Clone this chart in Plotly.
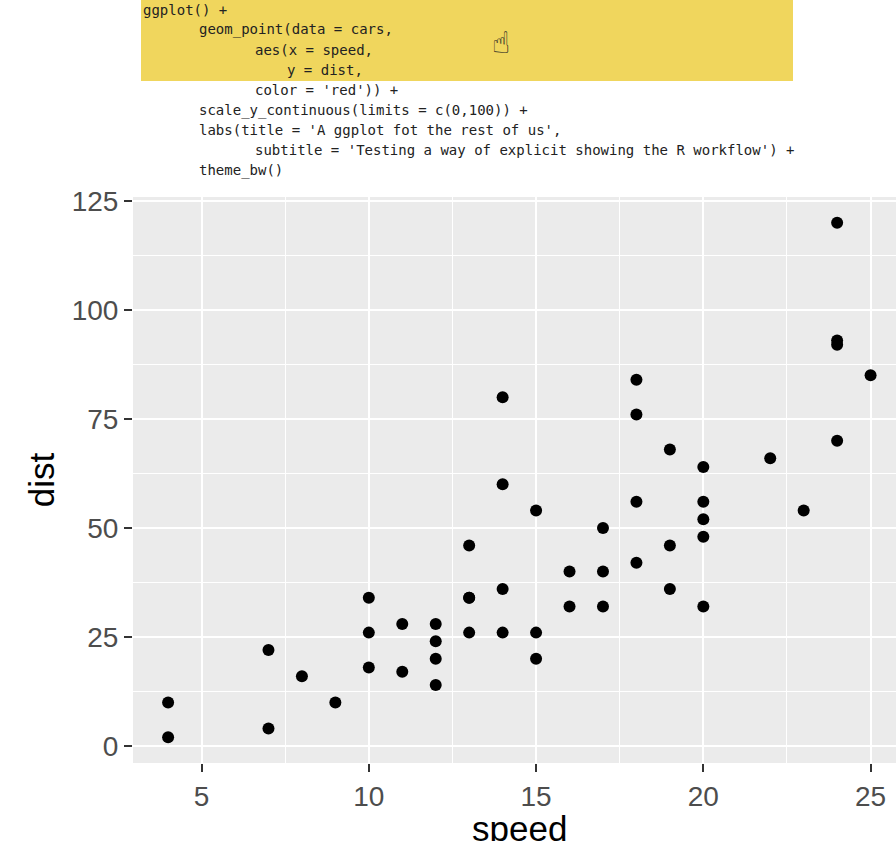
import plotly.graph_objects as go

# cars dataset (R)
speed = [4, 4, 7, 7, 8, 9, 10, 10, 10, 11, 11, 12, 12, 12, 12, 13, 13, 13, 13, 14,
         14, 14, 14, 15, 15, 15, 16, 16, 17, 17, 17, 18, 18, 18, 18, 19, 19, 19, 20, 20,
         20, 20, 20, 22, 23, 24, 24, 24, 24, 25]
dist = [2, 10, 4, 22, 16, 10, 18, 26, 34, 17, 28, 14, 20, 24, 28, 26, 34, 34, 46, 26,
        36, 60, 80, 20, 26, 54, 32, 40, 32, 40, 50, 42, 56, 76, 84, 36, 46, 68, 32, 48,
        52, 56, 64, 66, 54, 70, 92, 93, 120, 85]

x_ticks = [5, 10, 15, 20, 25]
y_ticks = [0, 25, 50, 75, 100, 125]

code_lines = [
    "ggplot() +",
    "       geom_point(data = cars,",
    "              aes(x = speed,",
    "                  y = dist,",
    "              color = 'red')) +",
    "       scale_y_continuous(limits = c(0,100)) +",
    "       labs(title = 'A ggplot fot the rest of us',",
    "              subtitle = 'Testing a way of explicit showing the R workflow') +",
    "       theme_bw()",
]

W, H = 896, 841
ML, MR, MT, MB = 133, 0, 197, 78


def px(x):
    return (x - ML) / (W - ML - MR)


def py(y):
    return (H - MB - y) / (H - MT - MB)


fig = go.Figure()
fig.add_trace(go.Scatter(
    x=speed, y=dist, mode="markers",
    marker=dict(color="black", size=12, line=dict(width=0)),
    hoverinfo="x+y", showlegend=False,
))

axis_common = dict(
    showgrid=True, gridcolor="white", gridwidth=2.4,
    zeroline=False, showline=False,
    ticks="outside", ticklen=8, tickwidth=2, tickcolor="#333333",
    tickfont=dict(family="Liberation Sans, Arial", size=28, color="#4D4D4D"),
)

fig.update_xaxes(
    range=[2.95, 25.76], tickvals=x_ticks,
    minor=dict(dtick=2.5, tick0=0, showgrid=True, gridcolor="white", gridwidth=1.2, ticks=""),
    **axis_common,
)
fig.update_yaxes(
    range=[-3.9, 125.9], tickvals=y_ticks,
    minor=dict(dtick=12.5, tick0=0, showgrid=True, gridcolor="white", gridwidth=1.2, ticks=""),
    title=dict(text="dist", standoff=6,
               font=dict(family="Liberation Sans, Arial", size=35, color="black")),
    **axis_common,
)

# x title sits centred on the full (cropped) ggplot panel and runs off the bottom
fig.add_annotation(text="speed", xref="x", yref="paper",
                   x=(2.95 + 26.05) / 2, y=py(828),
                   xanchor="center", yanchor="middle", showarrow=False,
                   font=dict(family="Liberation Sans, Arial", size=35, color="black"))

# yellow highlight behind the first lines of code
fig.add_shape(type="rect", xref="paper", yref="paper",
              x0=px(141), x1=px(793), y0=py(0), y1=py(81),
              fillcolor="#F0D65D", line=dict(width=0), layer="below")

for i, line in enumerate(code_lines):
    indent = len(line) - len(line.lstrip(" "))
    fig.add_annotation(
        text=line.strip(), xref="paper", yref="paper",
        x=px(141 + indent * 8), y=py(10 + i * 20),
        xanchor="left", yanchor="middle", showarrow=False,
        font=dict(family="DejaVu Sans Mono", size=14, color="#222222"),
    )

# mouse cursor
fig.add_annotation(text="\u261D", xref="paper", yref="paper",
                   x=px(501), y=py(23), showarrow=False,
                   font=dict(family="DejaVu Sans", size=30, color="#222222"))

fig.update_layout(
    width=W, height=H,
    margin=dict(l=ML, r=MR, t=MT, b=MB, autoexpand=False),
    plot_bgcolor="#EBEBEB", paper_bgcolor="white",
    showlegend=False,
)

fig.write_html("out.html", config={"displayModeBar": False},
               post_script="document.body.style.margin = '0';")
